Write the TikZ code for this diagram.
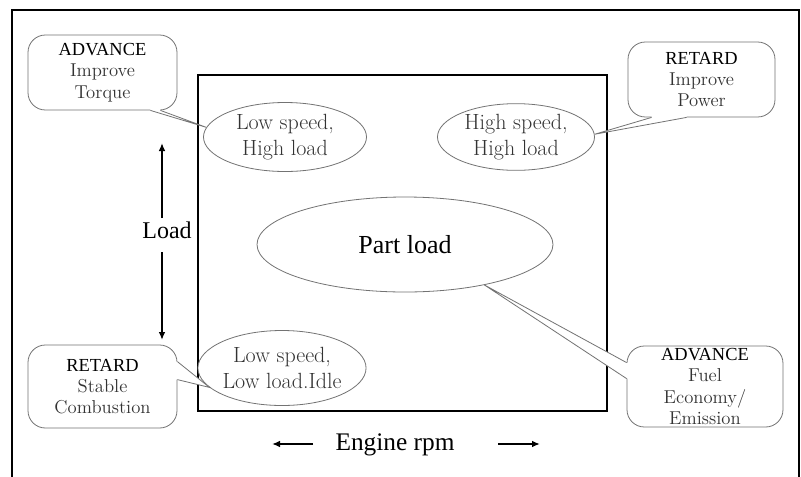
\documentclass[tikz,border=0pt]{standalone}
\usepackage{fontspec}
\newfontfamily\tnr{Liberation Serif}
\usetikzlibrary{arrows.meta,calc,shapes.geometric}
\tikzset{
  ell/.style={ellipse, draw=black!55, line width=0.6pt, fill=white, inner sep=0pt,
    align=center, text=black!80, font=\fontsize{16.5}{19}\selectfont},
  callout/.style={rectangle, rounded corners=13pt, draw=black!55, line width=0.6pt,
    fill=white, inner sep=0pt, align=center, text=black!80,
    font=\fontsize{14}{16}\selectfont},
  tailline/.style={draw=black!55, line width=0.6pt, line join=miter},
  arr/.style={line width=1.6pt, -{Latex[length=6pt,width=5pt]}},
  bold/.style={font=\tnr\fontsize{18}{20}\selectfont, text=black}
}
\newcommand\hd[1]{{\tnr\fontsize{13.8}{16}\selectfont\color{black}#1}}
\begin{document}
\begin{tikzpicture}[x=0.75pt,y=-0.75pt]
\clip (0,0) rectangle (801,476);
\fill[white] (0,0) rectangle (801,476);
% outer frame
\draw[line width=1.5pt] (12,10) rectangle (799,490);
% inner chart
\draw[line width=1.1pt] (198,75) rectangle (607,411);

% ellipses
\node[ell, minimum width=122.25pt, minimum height=51.75pt] (e1) at (285,137) {Low speed,\\High load};
\node[ell, minimum width=117.75pt, minimum height=50pt] (e2) at (516,137) {High speed,\\High load};
\node[ell, minimum width=222pt, minimum height=71.25pt, text=black,
  font=\tnr\fontsize{19.5}{22}\selectfont] (e3) at (405,244.5) {Part load};
\node[ell, minimum width=108.75pt, minimum height=56.25pt] (e4) at (282,368) {Low speed,\\Low load.Idle};

% callouts
\node[callout, minimum width=111.75pt, minimum height=56.25pt] (c1) at (102.5,72.5) {\hd{ADVANCE}\\Improve\\Torque};
\node[callout, minimum width=110.25pt, minimum height=56.25pt] (c2) at (701.5,79.5) {\hd{RETARD}\\Improve\\Power};
\node[callout, minimum width=111.75pt, minimum height=62.25pt] (c3) at (102.5,386.5) {\hd{RETARD}\\Stable\\Combustion};
\node[callout, minimum width=117pt, minimum height=60.75pt] (c4) at (705,386.5) {\hd{ADVANCE}\\Fuel\\Economy/\\Emission};

% tails
\fill[white] ($(c1.south east)+(-27,-2)$) -- ($(c1.south east)+(-27,0)$) -- (e1.173) -- ($(c1.south east)+(-17,0)$) -- ($(c1.south east)+(-17,-2)$) -- cycle;
\draw[tailline] ($(c1.south east)+(-27,0)$) -- (e1.173) -- ($(c1.south east)+(-17,0)$);

\fill[white] ($(c2.south west)+(24,-2)$) -- ($(c2.south west)+(24,0)$) -- (e2.2) -- ($(c2.south west)+(59,0)$) -- ($(c2.south west)+(59,-2)$) -- cycle;
\draw[tailline] ($(c2.south west)+(24,0)$) -- (e2.2) -- ($(c2.south west)+(59,0)$);

\fill[white] ($(c3.north east)+(-2,17)$) -- ($(c3.north east)+(0,17)$) -- (e4.195) -- ($(c3.north east)+(0,35)$) -- ($(c3.north east)+(-2,35)$) -- cycle;
\draw[tailline] ($(c3.north east)+(0,17)$) -- (e4.195) -- ($(c3.north east)+(0,35)$);

\fill[white] ($(c4.north west)+(2,17)$) -- ($(c4.north west)+(0,17)$) -- (e3.-27) -- ($(c4.north west)+(0,33)$) -- ($(c4.north west)+(2,33)$) -- cycle;
\draw[tailline] ($(c4.north west)+(0,17)$) -- (e3.-27) -- ($(c4.north west)+(0,33)$);

% load axis
\node[bold, inner sep=0pt] (load) at (167,230) {Load};
\coordinate (lt) at (162,143);
\coordinate (lb) at (162,340);
\coordinate (lm1) at (162,218);
\coordinate (lm2) at (162,252);
\draw[arr] (lm1) -- (lt);
\draw[arr] (lm2) -- (lb);

% rpm axis
\node[bold, font=\tnr\fontsize{19}{21}\selectfont, inner sep=0pt] (rpm) at (395,445) {Engine rpm};
\coordinate (rl) at (272,444);
\coordinate (rr) at (540,444);
\coordinate (rl0) at (313,444);
\coordinate (rr0) at (498,444);
\draw[arr] (rl0) -- (rl);
\draw[arr] (rr0) -- (rr);
\end{tikzpicture}
\end{document}
